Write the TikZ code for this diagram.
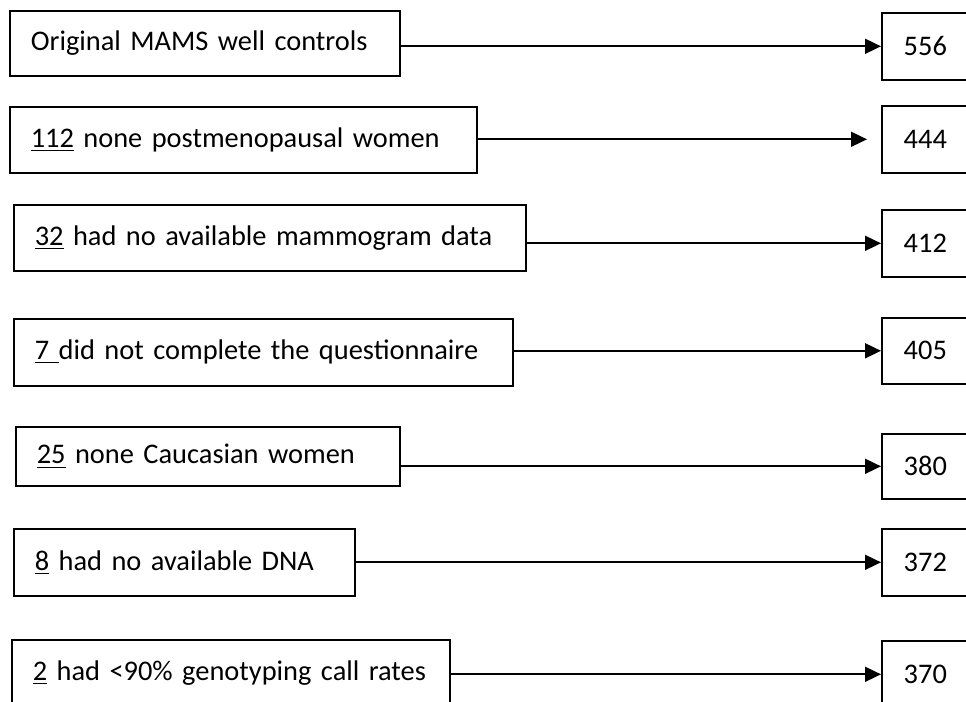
\documentclass[tikz,border=0pt]{standalone}
\usepackage{fontspec}
\setmainfont{Carlito}
\usepackage{tikz}
\usetikzlibrary{
  arrows.meta,
  positioning
}

\begin{document}
\begin{tikzpicture}[
  x=0.5pt, y=-0.5pt,
  lbox/.style={draw, line width=0.8pt, text width=#1, align=left,
               inner xsep=10.5pt, inner ysep=2pt, minimum height=33pt,
               anchor=north west, font=\fontsize{14.2}{17}\selectfont},
  nbox/.style={draw, line width=0.8pt, minimum width=43.5pt,
               minimum height=33.5pt, anchor=north west,
               font=\fontsize{14.2}{17}\selectfont},
  arr/.style={-{Triangle[length=8pt, width=7.5pt]}, line width=0.9pt},
]
  \useasboundingbox (0,0) rectangle (966,702);

  % Exclusion steps
  \node[lbox=174pt, minimum height=32.5pt] (orig) at (9,10) {\mbox{Original MAMS well controls}};
  \node[lbox=212.5pt] (premeno) at (9,106) {\mbox{\underline{112} none postmenopausal women}};
  \node[lbox=235pt] (mammo) at (13,204) {\mbox{\underline{32} had no available mammogram data}};
  \node[lbox=228.5pt, minimum height=33.5pt] (quest) at (13,318) {\mbox{\underline{7 }did not complete the questionnaire}};
  \node[lbox=171pt, minimum height=29.5pt] (cauc) at (15,426) {\mbox{\underline{25} none Caucasian women}};
  \node[lbox=149.5pt, minimum height=33.5pt] (dna) at (13,528) {\mbox{\underline{8} had no available DNA}};
  \node[lbox=198pt, minimum height=33.5pt] (call) at (11,639) {\mbox{\underline{2} had <90\% genotyping call rates}};

  % Remaining counts
  \node[nbox] (n556) at (881,12) {556};
  \node[nbox] (n444) at (881,105) {444};
  \node[nbox] (n412) at (881,209) {412};
  \node[nbox, minimum height=33pt] (n405) at (881,317) {405};
  \node[nbox, minimum height=32.5pt] (n380) at (881,433) {380};
  \node[nbox] (n372) at (881,528) {372};
  \node[nbox] (n370) at (881,640) {370};

  % Arrows
  \draw[arr] (n556.west -| orig.east) -- (n556.west);
  \draw[arr, shorten >=7pt] (n444.west -| premeno.east) -- (n444.west);
  \draw[arr] (n412.west -| mammo.east) -- (n412.west);
  \draw[arr] (n405.west -| quest.east) -- (n405.west);
  \draw[arr] (n380.west -| cauc.east) -- (n380.west);
  \draw[arr] (n372.west -| dna.east) -- (n372.west);
  \draw[arr] (n370.west -| call.east) -- (n370.west);
\end{tikzpicture}
\end{document}
